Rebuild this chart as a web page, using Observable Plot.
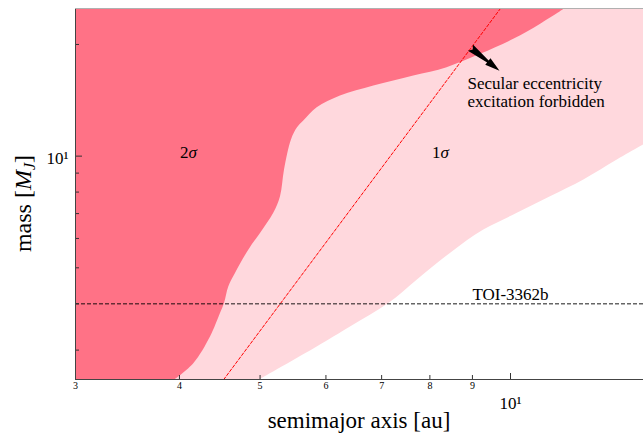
<!DOCTYPE html>
<html>
<head>
<meta charset="utf-8">
<script src="https://cdn.jsdelivr.net/npm/d3@7"></script>
<script src="https://cdn.jsdelivr.net/npm/@observablehq/plot@0.6"></script>
<style>
  body { margin: 0; background: #fff; }
  svg { display: block; }
</style>
</head>
<body>
<div id="chart"></div>
<script>
// 2σ region boundary (everything left of it is forbidden at 2σ)
const sigma2Mass = [2.5, 2.756, 3.253, 3.763, 4.005, 4.441, 4.827, 5.58, 6.19, 7.012, 7.775, 9.18, 11.06, 11.92, 12.43, 13.5, 14.52, 15.46, 16.45, 17.32, 18.81, 20.65, 22.68, 25];
const sigma2Axis = [3.957, 4.162, 4.359, 4.481, 4.531, 4.585, 4.671, 4.846, 5.006, 5.193, 5.291, 5.35, 5.454, 5.546, 5.643, 5.856, 6.246, 6.85, 7.65, 8.39, 9.204, 10.09, 10.87, 11.64];

// 1σ region boundary
const sigma1Mass = [2.5, 3.057, 3.462, 4.005, 4.63, 5.467, 6.319, 7.012, 7.775, 8.628, 9.768, 10.72, 25];
const sigma1Axis = [5.006, 5.856, 6.422, 7.14, 7.722, 8.467, 9.288, 10.19, 11.17, 12.25, 13.44, 14.45, 28];

// dashed red line (secular excitation limit)
const limitAxis = [4.522, 9.726];
const limitMass = [2.5, 25];

// planet
const planetName = "TOI-3362b";
const planetMass = 4.0;
const planetLabelAxis = 10;

// region labels
const regionLabelAxis = [4.102, 8.237];
const regionLabelDigit = ["2", "1"];
const regionLabelMass = 10;

// annotation
const noteText = "Secular eccentricity\nexcitation forbidden";
const noteAxis = 8.876;
const noteMass = 14.84;
const arrowTail = [8.95, 19.61];   // [a, m]
const arrowTip = [9.70, 16.99];    // [a, m]

// ticks
const xMinorTicks = [3, 4, 5, 6, 7, 8, 9];
const xMajorTicks = [10];
const yMinorTicks = [3, 4, 5, 6, 7, 8, 9, 20];
const yMajorTicks = [10];
const xDomain = [3, 14.45];
const yDomain = [2.5, 25];

const dark = "#ff7286";
const light = "#ffd8dd";

const sigma2 = sigma2Mass.map((m, i) => ({m, a: sigma2Axis[i]}));
const sigma1 = sigma1Mass.map((m, i) => ({m, a: sigma1Axis[i]}));
const limit = limitMass.map((m, i) => ({m, a: limitAxis[i]}));
const regionLabels = regionLabelAxis.map((a, i) => ({a, m: regionLabelMass, d: regionLabelDigit[i]}));

const W = 643, H = 435, ML = 75, MR = 0, MT = 8, MB = 56;
const plotH = H - MT - MB, plotW = W - ML - MR;

// arrow geometry through the same scales
const sx = Plot.scale({x: {type: "log", domain: xDomain, range: [ML, W - MR]}});
const sy = Plot.scale({y: {type: "log", domain: yDomain, range: [H - MB, MT]}});
const tx = sx.apply(arrowTail[0]), ty = sy.apply(arrowTail[1]);
const hx = sx.apply(arrowTip[0]), hy = sy.apply(arrowTip[1]);
const arrowLen = Math.hypot(hx - tx, hy - ty);
const arrowRot = Math.atan2(hx - tx, -(hy - ty)) * 180 / Math.PI;
const wedge = {
  draw(context, l) {
    context.moveTo(-4, 0);
    context.lineTo(-1.2, -l * 0.6);
    context.lineTo(-4.2, -l * 0.6);
    context.lineTo(0, -l);
    context.lineTo(4.2, -l * 0.6);
    context.lineTo(1.2, -l * 0.6);
    context.lineTo(4, 0);
    context.lineTo(0, -3);
    context.closePath();
  }
};

const plot = Plot.plot({
  width: W, height: H,
  marginLeft: ML, marginRight: MR, marginTop: MT, marginBottom: MB,
  x: {type: "log", domain: xDomain, label: null, axis: null},
  y: {type: "log", domain: yDomain, label: null, axis: null},
  style: {fontFamily: "'Liberation Serif', 'Times New Roman', serif", background: "#fff", color: "#000"},
  marks: [
    Plot.areaX(sigma1, {x1: xDomain[0], x2: "a", y: "m", fill: light, curve: "catmull-rom", clip: true}),
    Plot.areaX(sigma2, {x1: xDomain[0], x2: "a", y: "m", fill: dark, curve: "catmull-rom", clip: true}),
    Plot.line(limit, {x: "a", y: "m", stroke: "#ff0000", strokeWidth: 1, strokeDasharray: "3,2", clip: true}),
    Plot.ruleY([planetMass], {y: d => d, stroke: "#000", strokeOpacity: 0.6, strokeWidth: 1.3, strokeDasharray: "4,2"}),
    Plot.text([planetName], {x: () => planetLabelAxis, y: () => planetMass, text: d => d, fontSize: 17, textAnchor: "middle", dy: -9}),
    Plot.text(regionLabels, {x: "a", y: "m", text: "d", fontSize: 17, textAnchor: "end", dy: -4}),
    Plot.text(regionLabels, {x: "a", y: "m", text: () => "σ", fontSize: 17, fontStyle: "italic", textAnchor: "start", dy: -4}),
    Plot.text([noteText], {x: () => noteAxis, y: () => noteMass, text: d => d, fontSize: 17, textAnchor: "start", lineHeight: 1.05}),
    Plot.vector([arrowTail], {x: d => d[0], y: d => d[1], length: arrowLen, rotate: arrowRot, anchor: "start", shape: wedge, fill: "#000", stroke: "none"}),
    // ticks (inward)
    Plot.tickX(xMinorTicks, {x: d => d, insetTop: plotH - 4, stroke: "#333"}),
    Plot.tickX(xMajorTicks, {x: d => d, insetTop: plotH - 6, stroke: "#333"}),
    Plot.tickY(yMinorTicks, {y: d => d, insetRight: plotW - 4, stroke: "#333"}),
    Plot.tickY(yMajorTicks, {y: d => d, insetRight: plotW - 7, stroke: "#333"}),
    // tick labels
    Plot.text(xMinorTicks, {x: d => d, frameAnchor: "bottom", text: d => String(d), fontSize: 10, lineAnchor: "top", dy: 2}),
    Plot.text(xMajorTicks, {x: d => d, frameAnchor: "bottom", text: () => "10¹", fontSize: 17, lineAnchor: "top", dy: 17}),
    Plot.text(yMajorTicks, {y: d => d, frameAnchor: "left", text: () => "10¹", fontSize: 17, textAnchor: "end", dx: -7, dy: 2}),
    // spines
    Plot.ruleX([xDomain[0]], {x: d => d, stroke: "#444"}),
    Plot.ruleY([yDomain[0]], {y: d => d, stroke: "#444"}),
    Plot.ruleY([yDomain[1]], {y: d => d, stroke: "#b0b0b0"})
  ]
});

const svg = d3.select(plot);
svg.append("text")
  .attr("x", ML + plotW / 2).attr("y", 428)
  .attr("text-anchor", "middle").attr("font-size", 23).attr("fill", "#000")
  .text("semimajor axis [au]");
const yl = svg.append("text")
  .attr("transform", `translate(31,${MT + plotH / 2 + 10}) rotate(-90)`)
  .attr("text-anchor", "middle").attr("font-size", 24).attr("fill", "#000");
yl.append("tspan").text("mass [");
yl.append("tspan").attr("font-style", "italic").text("M");
yl.append("tspan").attr("font-style", "italic").attr("font-size", 16).attr("dy", 4).text("J");
yl.append("tspan").attr("dy", -4).text("]");

document.getElementById("chart").appendChild(plot);
</script>
</body>
</html>
